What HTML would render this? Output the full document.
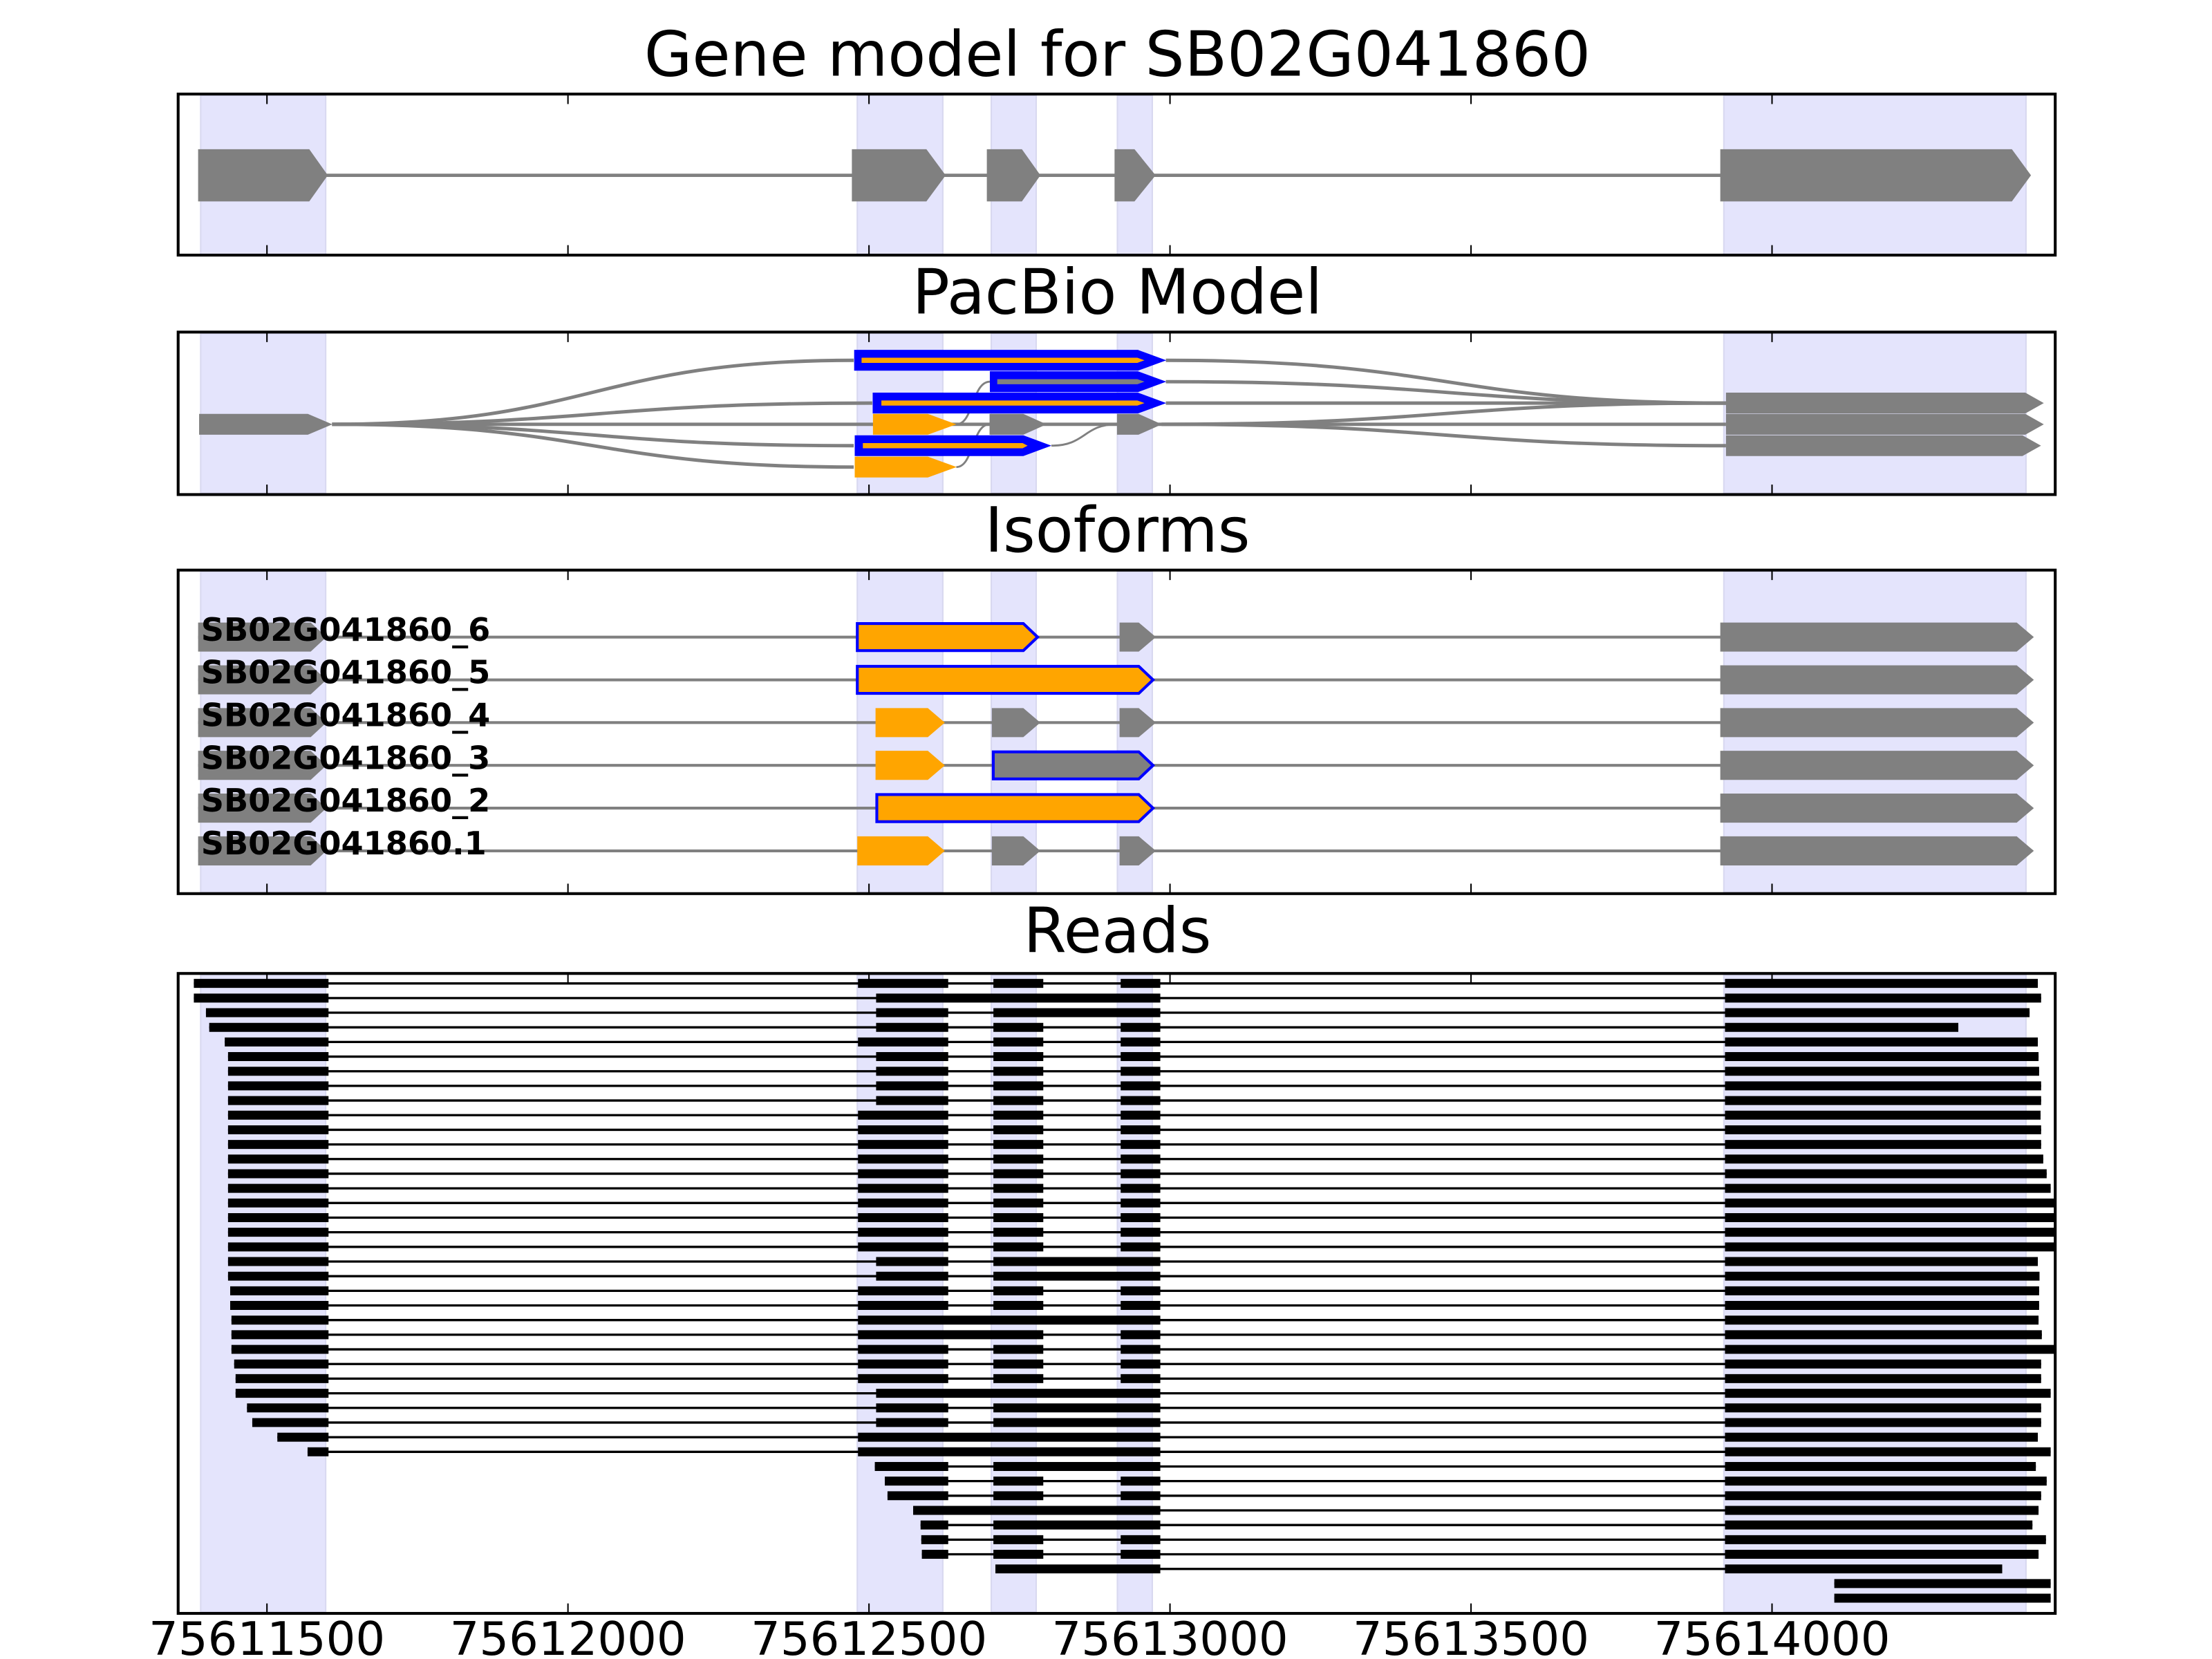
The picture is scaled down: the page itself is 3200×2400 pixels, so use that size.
<!DOCTYPE html>
<html><head><meta charset="utf-8"><style>html,body{margin:0;padding:0;background:#fff}svg{display:block}</style></head>
<body>
<svg xmlns="http://www.w3.org/2000/svg" width="3200" height="2400" viewBox="0 0 1552 1164" font-family="'DejaVu Sans','Liberation Sans',sans-serif">
<defs>
<clipPath id="c4"><rect x="125" y="683" width="1317" height="449"/></clipPath>
</defs>
<rect width="1552" height="1164" fill="#fff"/>
<!-- titles -->
<g font-size="43.5" text-anchor="middle" fill="#000">
<text x="784" y="53">Gene model for SB02G041860</text>
<text x="784" y="220">PacBio Model</text>
<text x="784" y="387">Isoforms</text>
<text x="784" y="668">Reads</text>
</g>
<!-- shading -->
<g fill="#e4e4fc" stroke="#d8d8f0" stroke-width="1">
<g id="sh1">
<rect x="140.8" y="67" width="87.7" height="112"/>
<rect x="601.5" y="67" width="60" height="112"/>
<rect x="695.5" y="67" width="31.5" height="112"/>
<rect x="784" y="67" width="24.5" height="112"/>
<rect x="1209.5" y="67" width="212" height="112"/>
</g>
<g transform="translate(0,167)"><rect x="140.8" y="67" width="87.7" height="112"/><rect x="601.5" y="67" width="60" height="112"/><rect x="695.5" y="67" width="31.5" height="112"/><rect x="784" y="67" width="24.5" height="112"/><rect x="1209.5" y="67" width="212" height="112"/></g>
<rect x="140.8" y="401" width="87.7" height="225"/><rect x="601.5" y="401" width="60" height="225"/><rect x="695.5" y="401" width="31.5" height="225"/><rect x="784" y="401" width="24.5" height="225"/><rect x="1209.5" y="401" width="212" height="225"/>
<rect x="140.8" y="684" width="87.7" height="447"/><rect x="601.5" y="684" width="60" height="447"/><rect x="695.5" y="684" width="31.5" height="447"/><rect x="784" y="684" width="24.5" height="447"/><rect x="1209.5" y="684" width="212" height="447"/>
</g>

<!-- Panel 1 -->
<line x1="225" y1="123" x2="1210" y2="123" stroke="#808080" stroke-width="2.3"/>
<g fill="#808080">
<polygon points="139,104.7 217,104.7 230,123 217,141.3 139,141.3"/>
<polygon points="597.7,104.7 650,104.7 663.5,123 650,141.3 597.7,141.3"/>
<polygon points="692.4,104.7 717,104.7 730,123 717,141.3 692.4,141.3"/>
<polygon points="782,104.7 796,104.7 810.8,123 796,141.3 782,141.3"/>
<polygon points="1207,104.7 1411.6,104.7 1425,123 1411.6,141.3 1207,141.3"/>
</g>

<!-- Panel 2 -->
<g fill="none" stroke="#808080" stroke-width="2.4">
<path d="M233 297.7C416 297.7 416 252.8 599 252.8"/>
<path d="M233 297.7C420 297.7 420 282.8 612 282.8"/>
<path d="M233 297.7H1211"/>
<path d="M233 297.7C416 297.7 416 312.7 599 312.7"/>
<path d="M233 297.7C416 297.7 416 327.7 599 327.7"/>
<path d="M818 252.8C1015 252.8 1015 282.8 1211 282.8"/>
<path d="M818 267.8C1015 267.8 1015 282.8 1211 282.8"/>
<path d="M818 282.8H1211"/>
<path d="M815 297.7C1013 297.7 1013 282.8 1211 282.8"/>
<path d="M815 297.7C1013 297.7 1013 312.7 1211 312.7"/>
</g>
<g fill="none" stroke="#808080" stroke-width="1.4">
<path d="M671 297.7C683 297.7 682 267.8 694.5 267.8"/>
<path d="M671 327.7C683 327.7 682 297.7 694.3 297.7"/>
<path d="M737.7 312.7C762 312.7 760 297.7 783.7 297.7"/>
</g>
<g>
<polygon fill="#808080" points="139.7,290.4 216,290.4 233.2,297.7 216,305 139.7,305"/>
<polygon fill="#0000ff" points="599.3,245.5 798.4,245.5 818.3,252.8 798.4,260.1 599.3,260.1"/>
<polygon fill="#ffa500" points="604.5,251 798,251 803,252.8 798,254.6 604.5,254.6"/>
<polygon fill="#0000ff" points="694.5,260.5 798.4,260.5 818.3,267.8 798.4,275.1 694.5,275.1"/>
<polygon fill="#808080" points="699.7,266 798,266 803,267.8 798,269.6 699.7,269.6"/>
<polygon fill="#0000ff" points="612.3,275.5 798.4,275.5 818.3,282.8 798.4,290.1 612.3,290.1"/>
<polygon fill="#ffa500" points="618.4,281 798,281 803,282.8 798,284.6 618.4,284.6"/>
<polygon fill="#ffa500" points="612.5,290.4 651,290.4 671,297.7 651,305 612.5,305"/>
<polygon fill="#808080" points="694.3,290.4 718,290.4 734.3,297.7 718,305 694.3,305"/>
<polygon fill="#808080" points="783.7,290.4 798.8,290.4 815.2,297.7 798.8,305 783.7,305"/>
<polygon fill="#0000ff" points="599.7,305.4 718,305.4 737.7,312.7 718,320 599.7,320"/>
<polygon fill="#ffa500" points="605.4,310.9 717.5,310.9 721,312.7 717.5,314.5 605.4,314.5"/>
<polygon fill="#ffa500" points="599.7,320.4 651,320.4 671.2,327.7 651,335 599.7,335"/>
<polygon fill="#808080" points="1211,275.5 1421,275.5 1434,282.8 1421,290.1 1211,290.1"/>
<polygon fill="#808080" points="1211,290.4 1421,290.4 1434,297.7 1421,305 1211,305"/>
<polygon fill="#808080" points="1211,305.4 1419,305.4 1432,312.7 1419,320 1211,320"/>
</g>

<!-- Panel 3 -->
<g stroke="#808080" stroke-width="2">
<line x1="139" y1="447" x2="1210" y2="447"/>
<line x1="139" y1="477" x2="1210" y2="477"/>
<line x1="139" y1="507" x2="1210" y2="507"/>
<line x1="139" y1="537" x2="1210" y2="537"/>
<line x1="139" y1="567" x2="1210" y2="567"/>
<line x1="139" y1="597" x2="1210" y2="597"/>
</g>
<g fill="#808080">
<polygon points="139,436.8 218,436.8 229,447 218,457.2 139,457.2"/>
<polygon points="139,466.8 218,466.8 229,477 218,487.2 139,487.2"/>
<polygon points="139,496.8 218,496.8 229,507 218,517.2 139,517.2"/>
<polygon points="139,526.8 218,526.8 229,537 218,547.2 139,547.2"/>
<polygon points="139,556.8 218,556.8 229,567 218,577.2 139,577.2"/>
<polygon points="139,586.8 218,586.8 229,597 218,607.2 139,607.2"/>
<polygon points="1207,436.8 1415,436.8 1427,447 1415,457.2 1207,457.2"/>
<polygon points="1207,466.8 1415,466.8 1427,477 1415,487.2 1207,487.2"/>
<polygon points="1207,496.8 1415,496.8 1427,507 1415,517.2 1207,517.2"/>
<polygon points="1207,526.8 1415,526.8 1427,537 1415,547.2 1207,547.2"/>
<polygon points="1207,556.8 1415,556.8 1427,567 1415,577.2 1207,577.2"/>
<polygon points="1207,586.8 1415,586.8 1427,597 1415,607.2 1207,607.2"/>
<polygon points="785.5,436.8 799,436.8 811,447 799,457.2 785.5,457.2"/>
<polygon points="695.9,496.8 718,496.8 729.9,507 718,517.2 695.9,517.2"/>
<polygon points="785.5,496.8 799,496.8 811,507 799,517.2 785.5,517.2"/>
<polygon points="695.9,586.8 718,586.8 729.9,597 718,607.2 695.9,607.2"/>
<polygon points="785.5,586.8 799,586.8 811,597 799,607.2 785.5,607.2"/>
</g>
<g fill="#ffa500">
<polygon points="614.3,496.8 651,496.8 662.9,507 651,517.2 614.3,517.2"/>
<polygon points="614.3,526.8 651,526.8 662.9,537 651,547.2 614.3,547.2"/>
<polygon points="601.5,586.8 651,586.8 662.9,597 651,607.2 601.5,607.2"/>
</g>
<g stroke="#0000ff" stroke-width="2">
<polygon fill="#ffa500" points="601.5,437.5 718,437.5 728,447 718,456.5 601.5,456.5"/>
<polygon fill="#ffa500" points="601.5,467.5 799,467.5 809,477 799,486.5 601.5,486.5"/>
<polygon fill="#808080" points="696.9,527.5 799,527.5 809,537 799,546.5 696.9,546.5"/>
<polygon fill="#ffa500" points="615.2,557.5 799,557.5 809,567 799,576.5 615.2,576.5"/>
</g>
<g font-size="22.4" font-weight="bold" fill="#000">
<text x="141" y="449.5">SB02G041860_6</text>
<text x="141" y="479.5">SB02G041860_5</text>
<text x="141" y="509.5">SB02G041860_4</text>
<text x="141" y="539.5">SB02G041860_3</text>
<text x="141" y="569.5">SB02G041860_2</text>
<text x="141" y="599.5">SB02G041860.1</text>
</g>

<!-- Panel 4 reads -->
<g clip-path="url(#c4)" fill="none" stroke="#000" stroke-linecap="butt">
<path stroke-width="1.6" d="M136 690H1429.8M136 700.27H1432.1M144.5 710.54H1424M146.8 720.81H1374M157.7 731.08H1429.8M160 741.35H1430.3M160 751.62H1430.7M160 761.89H1432.1M160 772.16H1432.1M160 782.43H1431.7M160 792.7H1432.1M160 802.97H1432.1M160 813.24H1433.6M160 823.51H1436M160 833.78H1438.8M160 844.05H1450M160 854.32H1450M160 864.59H1450M160 874.86H1450M160 885.13H1429.8M160 895.4H1431M161.5 905.67H1430.7M161.5 915.94H1430.7M162.4 926.21H1430.3M162.4 936.48H1432.6M162.4 946.75H1450M164.3 957.02H1432.1M165.3 967.29H1432.1M165.3 977.56H1438.8M173.3 987.83H1432.1M177 998.1H1432.1M194.6 1008.37H1429.8M215.8 1018.64H1438.8M613.8 1028.91H1428.4M620.8 1039.18H1436M622.7 1049.45H1432.1M640.7 1059.72H1430.3M645.9 1069.99H1426M646.4 1080.26H1435.5M646.8 1090.53H1430.3M698.4 1100.8H1404.8M1287 1111.07H1438.8M1287 1121.34H1438.8"/>
<path stroke-width="6.3" d="
M136 690H230.5M602 690H665.3M697 690H732M786.3 690H814.1M1210.3 690H1429.8
M136 700.27H230.5M614.7 700.27H814.1M1210.3 700.27H1432.1
M144.5 710.54H230.5M614.7 710.54H665.3M697 710.54H814.1M1210.3 710.54H1424
M146.8 720.81H230.5M614.7 720.81H665.3M697 720.81H732M786.3 720.81H814.1M1210.3 720.81H1374
M157.7 731.08H230.5M602 731.08H665.3M697 731.08H732M786.3 731.08H814.1M1210.3 731.08H1429.8
M160 741.35H230.5M614.7 741.35H665.3M697 741.35H732M786.3 741.35H814.1M1210.3 741.35H1430.3
M160 751.62H230.5M614.7 751.62H665.3M697 751.62H732M786.3 751.62H814.1M1210.3 751.62H1430.7
M160 761.89H230.5M614.7 761.89H665.3M697 761.89H732M786.3 761.89H814.1M1210.3 761.89H1432.1
M160 772.16H230.5M614.7 772.16H665.3M697 772.16H732M786.3 772.16H814.1M1210.3 772.16H1432.1
M160 782.43H230.5M602 782.43H665.3M697 782.43H732M786.3 782.43H814.1M1210.3 782.43H1431.7
M160 792.7H230.5M602 792.7H665.3M697 792.7H732M786.3 792.7H814.1M1210.3 792.7H1432.1
M160 802.97H230.5M602 802.97H665.3M697 802.97H732M786.3 802.97H814.1M1210.3 802.97H1432.1
M160 813.24H230.5M602 813.24H665.3M697 813.24H732M786.3 813.24H814.1M1210.3 813.24H1433.6
M160 823.51H230.5M602 823.51H665.3M697 823.51H732M786.3 823.51H814.1M1210.3 823.51H1436
M160 833.78H230.5M602 833.78H665.3M697 833.78H732M786.3 833.78H814.1M1210.3 833.78H1438.8
M160 844.05H230.5M602 844.05H665.3M697 844.05H732M786.3 844.05H814.1M1210.3 844.05H1450
M160 854.32H230.5M602 854.32H665.3M697 854.32H732M786.3 854.32H814.1M1210.3 854.32H1450
M160 864.59H230.5M602 864.59H665.3M697 864.59H732M786.3 864.59H814.1M1210.3 864.59H1450
M160 874.86H230.5M602 874.86H665.3M697 874.86H732M786.3 874.86H814.1M1210.3 874.86H1450
M160 885.13H230.5M614.7 885.13H665.3M697 885.13H814.1M1210.3 885.13H1429.8
M160 895.4H230.5M614.7 895.4H665.3M697 895.4H814.1M1210.3 895.4H1431
M161.5 905.67H230.5M602 905.67H665.3M697 905.67H732M786.3 905.67H814.1M1210.3 905.67H1430.7
M161.5 915.94H230.5M602 915.94H665.3M697 915.94H732M786.3 915.94H814.1M1210.3 915.94H1430.7
M162.4 926.21H230.5M602 926.21H814.1M1210.3 926.21H1430.3
M162.4 936.48H230.5M602 936.48H732M786.3 936.48H814.1M1210.3 936.48H1432.6
M162.4 946.75H230.5M602 946.75H665.3M697 946.75H732M786.3 946.75H814.1M1210.3 946.75H1450
M164.3 957.02H230.5M602 957.02H665.3M697 957.02H732M786.3 957.02H814.1M1210.3 957.02H1432.1
M165.3 967.29H230.5M602 967.29H665.3M697 967.29H732M786.3 967.29H814.1M1210.3 967.29H1432.1
M165.3 977.56H230.5M614.7 977.56H814.1M1210.3 977.56H1438.8
M173.3 987.83H230.5M614.7 987.83H665.3M697 987.83H814.1M1210.3 987.83H1432.1
M177 998.1H230.5M614.7 998.1H665.3M697 998.1H814.1M1210.3 998.1H1432.1
M194.6 1008.37H230.5M602 1008.37H814.1M1210.3 1008.37H1429.8
M215.8 1018.64H230.5M602 1018.64H814.1M1210.3 1018.64H1438.8
M613.8 1028.91H665.3M697 1028.91H814.1M1210.3 1028.91H1428.4
M620.8 1039.18H665.3M697 1039.18H732M786.3 1039.18H814.1M1210.3 1039.18H1436
M622.7 1049.45H665.3M697 1049.45H732M786.3 1049.45H814.1M1210.3 1049.45H1432.1
M640.7 1059.72H814.1M1210.3 1059.72H1430.3
M645.9 1069.99H665.3M697 1069.99H814.1M1210.3 1069.99H1426
M646.4 1080.26H665.3M697 1080.26H732M786.3 1080.26H814.1M1210.3 1080.26H1435.5
M646.8 1090.53H665.3M697 1090.53H732M786.3 1090.53H814.1M1210.3 1090.53H1430.3
M698.4 1100.8H814.1M1210.3 1100.8H1404.8
M1287 1111.07H1438.8
M1287 1121.34H1438.8"/>
</g>

<!-- frames & ticks -->
<g fill="none" stroke="#000" stroke-width="2">
<rect x="125" y="66" width="1317" height="113"/>
<rect x="125" y="233" width="1317" height="114"/>
<rect x="125" y="400" width="1317" height="227"/>
<rect x="125" y="683" width="1317" height="449"/>
</g>
<g stroke="#000" stroke-width="1">
<path d="M187.3 66v7M398.5 66v7M609.7 66v7M820.9 66v7M1032.1 66v7M1243.3 66v7
M187.3 179v-7M398.5 179v-7M609.7 179v-7M820.9 179v-7M1032.1 179v-7M1243.3 179v-7
M187.3 233v7M398.5 233v7M609.7 233v7M820.9 233v7M1032.1 233v7M1243.3 233v7
M187.3 347v-7M398.5 347v-7M609.7 347v-7M820.9 347v-7M1032.1 347v-7M1243.3 347v-7
M187.3 400v7M398.5 400v7M609.7 400v7M820.9 400v7M1032.1 400v7M1243.3 400v7
M187.3 627v-7M398.5 627v-7M609.7 627v-7M820.9 627v-7M1032.1 627v-7M1243.3 627v-7
M187.3 683v7M398.5 683v7M609.7 683v7M820.9 683v7M1032.1 683v7M1243.3 683v7
M187.3 1132v-7M398.5 1132v-7M609.7 1132v-7M820.9 1132v-7M1032.1 1132v-7M1243.3 1132v-7"/>
</g>
<g font-size="32.6" text-anchor="middle" fill="#000">
<text x="187.3" y="1161">75611500</text>
<text x="398.5" y="1161">75612000</text>
<text x="609.7" y="1161">75612500</text>
<text x="820.9" y="1161">75613000</text>
<text x="1032.1" y="1161">75613500</text>
<text x="1243.3" y="1161">75614000</text>
</g>
</svg>
</body></html>
